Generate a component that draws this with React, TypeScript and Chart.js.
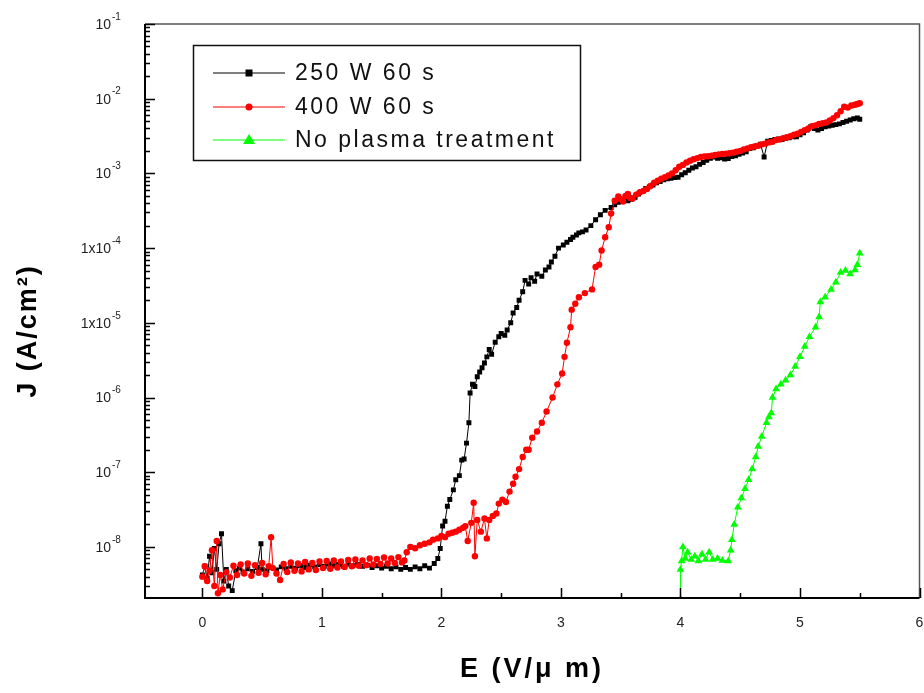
import React, { useEffect, useRef } from "react";
import { Chart, registerables } from "chart.js";

Chart.register(...registerables);

// ---- data (E in V/um, J in A/cm^2) ----
const blackE = [
  0.0, 0.02, 0.04, 0.06, 0.08, 0.1, 0.12, 0.14, 0.16, 0.18,
  0.2, 0.22, 0.25, 0.28, 0.31, 0.34, 0.38, 0.42, 0.46, 0.49,
  0.5, 0.54, 0.58, 0.62, 0.66, 0.7, 0.74, 0.78, 0.82, 0.86,
  0.9, 0.94, 0.98, 1.02, 1.06, 1.1, 1.14, 1.18, 1.22, 1.26,
  1.3, 1.34, 1.38, 1.42, 1.46, 1.5, 1.54, 1.58, 1.62, 1.66,
  1.7, 1.74, 1.78, 1.82, 1.86, 1.9, 1.94, 1.97, 1.99, 2.01,
  2.03, 2.05, 2.07, 2.1, 2.12, 2.15, 2.17, 2.19, 2.21, 2.23,
  2.24, 2.26, 2.28, 2.3, 2.32, 2.34, 2.36, 2.38, 2.4, 2.42,
  2.45, 2.48, 2.5, 2.53, 2.55, 2.58, 2.6, 2.63, 2.65, 2.68,
  2.7, 2.73, 2.75, 2.78, 2.8, 2.84, 2.87, 2.9, 2.92, 2.95,
  2.98, 3.02, 3.05, 3.08, 3.1, 3.13, 3.15, 3.18, 3.21, 3.25,
  3.29, 3.33, 3.37,
  3.42, 3.45, 3.48, 3.5, 3.53, 3.56, 3.59, 3.62, 3.65, 3.68,
  3.71, 3.74, 3.77, 3.8, 3.83, 3.86, 3.89, 3.92, 3.95, 3.98,
  4.01, 4.04, 4.07, 4.1, 4.13, 4.16, 4.19, 4.22, 4.25, 4.28,
  4.31, 4.34, 4.37, 4.4, 4.43, 4.46, 4.49, 4.52, 4.55, 4.58,
  4.61, 4.64, 4.67, 4.7, 4.73, 4.76, 4.79, 4.82, 4.85, 4.88,
  4.91, 4.94, 4.97, 5.0, 5.03, 5.06, 5.09, 5.12, 5.15, 5.18,
  5.21, 5.24, 5.27, 5.3, 5.33, 5.36, 5.39, 5.42, 5.45, 5.48, 5.5,
];
const blackJ = [
  4.2e-9, 5.5e-9, 3.8e-9, 7.5e-9, 4.5e-9, 9.5e-9, 5.0e-9, 1.1e-8, 1.5e-8, 3.5e-9,
  5.0e-9, 3.0e-9, 2.6e-9, 4.8e-9, 5.2e-9, 4.6e-9, 5.1e-9, 4.7e-9, 5.3e-9, 1.1e-8,
  5.0e-9, 4.8e-9, 5.3e-9, 4.9e-9, 5.4e-9, 5.1e-9, 5.5e-9, 5.2e-9, 5.6e-9, 5.3e-9,
  5.7e-9, 5.4e-9, 5.8e-9, 5.5e-9, 5.9e-9, 5.6e-9, 5.8e-9, 5.5e-9, 5.9e-9, 5.6e-9,
  5.8e-9, 5.5e-9, 5.7e-9, 5.3e-9, 5.6e-9, 5.2e-9, 5.5e-9, 5.1e-9, 5.4e-9, 5.0e-9,
  5.3e-9, 5.0e-9, 5.4e-9, 5.1e-9, 5.6e-9, 5.2e-9, 6.0e-9, 7.0e-9, 9.5e-9, 1.9e-8,
  2.2e-8, 3.5e-8, 4.3e-8, 5.8e-8, 7.9e-8, 9.0e-8, 1.45e-7, 1.5e-7, 2.45e-7, 4.6e-7,
  1.15e-6, 1.5e-6, 1.4e-6, 1.9e-6, 2.2e-6, 2.5e-6, 2.9e-6, 3.5e-6, 4.4e-6, 3.8e-6,
  5.5e-6, 6.5e-6, 7.2e-6, 6.8e-6, 8.0e-6, 1.0e-5, 1.35e-5, 1.6e-5, 2.0e-5, 2.6e-5,
  3.7e-5, 3.3e-5, 4.0e-5, 3.6e-5, 4.5e-5, 4.2e-5, 5.1e-5, 5.6e-5, 6.5e-5, 7.8e-5,
  1.0e-4, 1.1e-4, 1.2e-4, 1.3e-4, 1.4e-4, 1.5e-4, 1.6e-4, 1.65e-4, 1.75e-4, 2.0e-4,
  2.4e-4, 2.8e-4, 3.2e-4,
  3.5e-4, 3.8e-4, 4.1e-4, 4.2e-4, 4.35e-4, 4.3e-4, 4.5e-4, 4.8e-4, 5.3e-4, 5.7e-4,
  6.3e-4, 6.6e-4, 7.0e-4, 7.5e-4, 7.8e-4, 8.2e-4, 8.5e-4, 8.6e-4, 8.8e-4, 8.9e-4,
  9.6e-4, 1.02e-3, 1.1e-3, 1.18e-3, 1.23e-3, 1.32e-3, 1.4e-3, 1.5e-3, 1.6e-3, 1.66e-3,
  1.6e-3, 1.62e-3, 1.56e-3, 1.58e-3, 1.68e-3, 1.72e-3, 1.8e-3, 1.88e-3, 1.95e-3, 2.15e-3,
  2.2e-3, 2.35e-3, 2.45e-3, 1.66e-3, 2.7e-3, 2.75e-3, 2.85e-3, 2.9e-3, 2.85e-3, 2.95e-3,
  3.0e-3, 3.1e-3, 3.1e-3, 3.3e-3, 3.5e-3, 3.8e-3, 4.2e-3, 4.0e-3, 3.8e-3, 4.0e-3,
  4.2e-3, 4.3e-3, 4.4e-3, 4.5e-3, 4.6e-3, 4.8e-3, 5.0e-3, 5.2e-3, 5.4e-3, 5.5e-3, 5.3e-3,
];

const redE = [
  0.0, 0.02, 0.04, 0.06, 0.08, 0.1, 0.12, 0.13, 0.15, 0.17,
  0.2, 0.23, 0.26, 0.29, 0.32, 0.35, 0.38, 0.41, 0.44, 0.47,
  0.5, 0.53, 0.555, 0.575, 0.59, 0.62, 0.65, 0.68, 0.71, 0.74,
  0.77, 0.8, 0.83, 0.86, 0.89, 0.92, 0.95, 0.98, 1.01, 1.04,
  1.07, 1.1, 1.13, 1.16, 1.19, 1.22, 1.25, 1.28, 1.31, 1.34,
  1.37, 1.4, 1.43, 1.46, 1.49, 1.52, 1.55, 1.58, 1.61, 1.64,
  1.67, 1.69,
  1.71, 1.74, 1.78, 1.82, 1.86, 1.9, 1.93, 1.97, 2.0, 2.03,
  2.06, 2.09, 2.12, 2.15, 2.18, 2.2, 2.22, 2.25, 2.27, 2.28,
  2.3, 2.33, 2.36, 2.38, 2.4, 2.43, 2.46, 2.48, 2.51, 2.54,
  2.57, 2.6, 2.62, 2.65, 2.68, 2.71, 2.73, 2.76, 2.8, 2.84,
  2.88, 2.93, 2.97, 3.01, 3.03, 3.05, 3.08, 3.09, 3.12, 3.15,
  3.2, 3.26, 3.29, 3.32, 3.34, 3.37, 3.4, 3.42,
  3.45, 3.48, 3.5, 3.52, 3.54, 3.56, 3.58, 3.6, 3.63, 3.66,
  3.69, 3.72, 3.75, 3.78, 3.81, 3.84, 3.87, 3.9, 3.93, 3.96,
  3.99, 4.02, 4.05, 4.08, 4.11, 4.14, 4.17, 4.2, 4.23, 4.26,
  4.29, 4.32, 4.35, 4.38, 4.41, 4.44, 4.47, 4.5, 4.53, 4.56,
  4.59, 4.62, 4.65, 4.68, 4.71, 4.74, 4.77, 4.8, 4.83, 4.86,
  4.89, 4.92, 4.95, 4.98, 5.01, 5.04, 5.07, 5.1, 5.13, 5.16,
  5.19, 5.22, 5.25, 5.28, 5.31, 5.34, 5.37, 5.4, 5.43, 5.46, 5.48, 5.5,
];
const redJ = [
  4.0e-9, 5.5e-9, 3.5e-9, 4.8e-9, 9.0e-9, 3.0e-9, 1.2e-8, 2.4e-9, 4.2e-9, 2.7e-9,
  4.6e-9, 3.9e-9, 5.6e-9, 4.2e-9, 5.8e-9, 4.4e-9, 6.0e-9, 4.1e-9, 5.7e-9, 4.5e-9,
  6.1e-9, 4.3e-9, 5.5e-9, 1.35e-8, 5.2e-9, 4.4e-9, 3.6e-9, 5.9e-9, 4.6e-9, 6.2e-9,
  4.8e-9, 6.0e-9, 4.7e-9, 6.3e-9, 5.0e-9, 6.1e-9, 4.9e-9, 6.4e-9, 5.2e-9, 6.5e-9,
  5.1e-9, 6.6e-9, 5.3e-9, 6.4e-9, 5.4e-9, 6.7e-9, 5.5e-9, 6.8e-9, 5.6e-9, 6.6e-9,
  5.7e-9, 7.0e-9, 5.8e-9, 6.9e-9, 5.9e-9, 7.2e-9, 6.0e-9, 7.0e-9, 6.1e-9, 7.3e-9,
  6.2e-9, 6.6e-9,
  8.5e-9, 1.0e-8, 9.6e-9, 1.05e-8, 1.1e-8, 1.15e-8, 1.25e-8, 1.3e-8, 1.4e-8, 1.35e-8,
  1.5e-8, 1.55e-8, 1.6e-8, 1.7e-8, 1.8e-8, 1.9e-8, 1.2e-8, 2.1e-8, 3.9e-8, 7.5e-9,
  2.3e-8, 1.6e-8, 2.4e-8, 1.3e-8, 2.3e-8, 2.6e-8, 2.8e-8, 3.8e-8, 4.3e-8, 4.0e-8,
  5.5e-8, 7.0e-8, 8.7e-8, 1.1e-7, 1.6e-7, 2.0e-7, 2.0e-7, 2.9e-7, 3.5e-7, 4.6e-7,
  6.5e-7, 1.0e-6, 1.5e-6, 2.1e-6, 3.5e-6, 5.4e-6, 8.7e-6, 1.5e-5, 1.8e-5, 2.2e-5,
  2.5e-5, 2.8e-5, 5.6e-5, 6.0e-5, 9.3e-5, 1.4e-4, 1.9e-4, 2.9e-4,
  4.3e-4, 4.9e-4, 4.5e-4, 4.2e-4, 5.0e-4, 5.3e-4, 4.7e-4, 4.6e-4, 5.2e-4, 5.6e-4,
  5.8e-4, 6.2e-4, 6.8e-4, 7.5e-4, 8.0e-4, 8.5e-4, 8.9e-4, 9.4e-4, 1.0e-3, 1.1e-3,
  1.23e-3, 1.3e-3, 1.4e-3, 1.48e-3, 1.55e-3, 1.6e-3, 1.66e-3, 1.68e-3, 1.7e-3, 1.72e-3,
  1.76e-3, 1.8e-3, 1.82e-3, 1.84e-3, 1.86e-3, 1.9e-3, 1.95e-3, 2.0e-3, 2.1e-3, 2.15e-3,
  2.24e-3, 2.3e-3, 2.35e-3, 2.45e-3, 2.5e-3, 2.6e-3, 2.65e-3, 2.8e-3, 2.85e-3, 2.95e-3,
  3.05e-3, 3.15e-3, 3.3e-3, 3.4e-3, 3.6e-3, 3.8e-3, 4.0e-3, 4.3e-3, 4.4e-3, 4.6e-3,
  4.7e-3, 4.8e-3, 5.1e-3, 5.5e-3, 6.0e-3, 6.8e-3, 7.8e-3, 7.6e-3, 8.1e-3, 8.3e-3, 8.5e-3, 8.7e-3,
];

const greenE = [
  4.0, 4.0, 4.01, 4.02, 4.04, 4.06, 4.09, 4.12, 4.15, 4.18,
  4.21, 4.24, 4.27, 4.31, 4.35, 4.4, 4.42, 4.43, 4.45, 4.48,
  4.51, 4.54, 4.57, 4.6, 4.63, 4.65, 4.68, 4.72, 4.74, 4.76,
  4.77, 4.8, 4.84, 4.88, 4.92, 4.96, 5.0, 5.04, 5.08, 5.13,
  5.16, 5.17, 5.21, 5.26, 5.3, 5.34, 5.38, 5.42, 5.46, 5.48,
  5.5,
];
const greenJ = [
  2.0e-9, 5.0e-9, 6.5e-9, 1.0e-8, 7.0e-9, 8.5e-9, 6.8e-9, 7.5e-9, 6.5e-9, 8.0e-9,
  6.8e-9, 8.5e-9, 6.8e-9, 7.0e-9, 6.6e-9, 6.5e-9, 9.0e-9, 1.25e-8, 2.0e-8, 3.4e-8,
  4.5e-8, 6.0e-8, 7.9e-8, 1.1e-7, 1.6e-7, 2.2e-7, 3.0e-7, 4.6e-7, 5.5e-7, 6.2e-7,
  1.0e-6, 1.3e-6, 1.5e-6, 1.7e-6, 2.0e-6, 2.6e-6, 3.5e-6, 4.8e-6, 6.5e-6, 8.7e-6,
  1.2e-5, 1.9e-5, 2.2e-5, 2.8e-5, 3.5e-5, 4.7e-5, 5.0e-5, 4.5e-5, 5.1e-5, 6.0e-5,
  8.5e-5,
];

const seriesNames = ["250 W 60 s", "400 W 60 s", "No plasma treatment"];
const seriesColors = ["#000000", "#ff0000", "#00ff00"];

const xTickValues = [0, 1, 2, 3, 4, 5, 6];
const xTickLabels = ["0", "1", "2", "3", "4", "5", "6"];
const xMinorValues = [0.5, 1.5, 2.5, 3.5, 4.5, 5.5];
const yTickValues = [1e-1, 1e-2, 1e-3, 1e-4, 1e-5, 1e-6, 1e-7, 1e-8];
const yTickBase = ["10", "10", "10", "1x10", "1x10", "10", "10", "10"];
const yTickExp = ["-1", "-2", "-3", "-4", "-5", "-6", "-7", "-8"];

const X_MIN = -0.48;
const X_MAX = 6;
const Y_MIN = 2.07e-9;
const Y_MAX = 0.1;

const FONT = '"Liberation Sans", Arial, sans-serif';

function pts(xs: number[], ys: number[]) {
  return xs.map((x, i) => ({ x, y: ys[i] }));
}

const overlayPlugin = {
  id: "overlay",
  afterDraw(chart: any) {
    const { ctx, chartArea: a, scales } = chart;
    const x = scales.x;
    const y = scales.y;
    ctx.save();

    // frame
    ctx.strokeStyle = "#555";
    ctx.lineWidth = 1.5;
    ctx.beginPath();
    ctx.moveTo(a.left, a.top);
    ctx.lineTo(a.right, a.top);
    ctx.lineTo(a.right, a.bottom);
    ctx.stroke();
    ctx.strokeStyle = "#000";
    ctx.lineWidth = 2;
    ctx.beginPath();
    ctx.moveTo(a.left, a.top);
    ctx.lineTo(a.left, a.bottom);
    ctx.lineTo(a.right, a.bottom);
    ctx.stroke();

    // x ticks (inside)
    ctx.lineWidth = 1.5;
    ctx.beginPath();
    xTickValues.forEach((v) => {
      const px = Math.round(x.getPixelForValue(v)) + 0.5;
      ctx.moveTo(px, a.bottom);
      ctx.lineTo(px, a.bottom - 10);
    });
    xMinorValues.forEach((v) => {
      const px = Math.round(x.getPixelForValue(v)) + 0.5;
      ctx.moveTo(px, a.bottom);
      ctx.lineTo(px, a.bottom - 5);
    });
    // y ticks (inside)
    yTickValues.forEach((v) => {
      const py = Math.round(y.getPixelForValue(v)) + 0.5;
      ctx.moveTo(a.left, py);
      ctx.lineTo(a.left + 10, py);
      for (let m = 2; m <= 9; m++) {
        const mv = v * m;
        if (mv > Y_MAX || mv < Y_MIN) continue;
        const pm = Math.round(y.getPixelForValue(mv)) + 0.5;
        ctx.moveTo(a.left, pm);
        ctx.lineTo(a.left + 5, pm);
      }
    });
    [2, 3, 4, 5, 6, 7, 8, 9].forEach((m) => {
      const mv = 1e-9 * m;
      if (mv < Y_MIN) return;
      const pm = Math.round(y.getPixelForValue(mv)) + 0.5;
      ctx.moveTo(a.left, pm);
      ctx.lineTo(a.left + 5, pm);
    });
    ctx.stroke();

    // x tick labels
    ctx.fillStyle = "#222";
    ctx.font = `14px ${FONT}`;
    ctx.textAlign = "center";
    ctx.textBaseline = "middle";
    xTickValues.forEach((v, i) => {
      ctx.fillText(xTickLabels[i], x.getPixelForValue(v), 623);
    });

    // y tick labels with superscripts
    yTickValues.forEach((v, i) => {
      const py = y.getPixelForValue(v);
      ctx.font = `14px ${FONT}`;
      ctx.textAlign = "right";
      ctx.textBaseline = "middle";
      ctx.fillText(yTickBase[i], 111, py + 1);
      ctx.font = `10px ${FONT}`;
      ctx.textAlign = "left";
      ctx.fillText(yTickExp[i], 112, py - 7);
    });

    // axis titles
    ctx.fillStyle = "#000";
    ctx.font = `bold 27px ${FONT}`;
    (ctx as any).letterSpacing = "3px";
    ctx.textAlign = "center";
    ctx.textBaseline = "middle";
    ctx.fillText("E (V/\u03bc m)", 532, 670);
    (ctx as any).letterSpacing = "2px";
    ctx.save();
    ctx.translate(29, 331);
    ctx.rotate(-Math.PI / 2);
    ctx.fillText("J (A/cm\u00b2)", 0, 0);
    ctx.restore();

    // legend
    (ctx as any).letterSpacing = "0px";
    ctx.strokeStyle = "#111";
    ctx.lineWidth = 1.5;
    ctx.strokeRect(193.5, 45.5, 387, 115);
    const rows = [73, 107, 140];
    rows.forEach((ry, i) => {
      const c = seriesColors[i];
      ctx.strokeStyle = c;
      ctx.fillStyle = c;
      ctx.lineWidth = 1.2;
      ctx.beginPath();
      ctx.moveTo(213, ry);
      ctx.lineTo(285, ry);
      ctx.stroke();
      const cx = 249;
      ctx.beginPath();
      if (i === 0) {
        ctx.rect(cx - 3.5, ry - 3.5, 7, 7);
      } else if (i === 1) {
        ctx.arc(cx, ry, 3.5, 0, Math.PI * 2);
      } else {
        ctx.moveTo(cx, ry - 6);
        ctx.lineTo(cx + 6, ry + 4);
        ctx.lineTo(cx - 6, ry + 4);
        ctx.closePath();
      }
      ctx.fill();
    });
    ctx.fillStyle = "#111";
    ctx.font = `23px ${FONT}`;
    (ctx as any).letterSpacing = "2.5px";
    ctx.textAlign = "left";
    ctx.textBaseline = "middle";
    rows.forEach((ry, i) => {
      ctx.fillText(seriesNames[i], 295, ry + 1);
    });
    (ctx as any).letterSpacing = "0px";
    ctx.restore();
  },
};

export default function App() {
  const ref = useRef<HTMLCanvasElement | null>(null);

  useEffect(() => {
    document.body.style.margin = "0";
    const canvas = ref.current;
    if (!canvas) return;
    const chart = new Chart(canvas, {
      type: "scatter",
      data: {
        datasets: [
          {
            label: seriesNames[0],
            data: pts(blackE, blackJ),
            showLine: true,
            borderColor: seriesColors[0],
            backgroundColor: seriesColors[0],
            borderWidth: 1,
            pointStyle: "rect",
            pointRadius: 3.5,
            pointBorderWidth: 0,
            order: 2,
          },
          {
            label: seriesNames[1],
            data: pts(redE, redJ),
            showLine: true,
            borderColor: seriesColors[1],
            backgroundColor: seriesColors[1],
            borderWidth: 1,
            pointStyle: "circle",
            pointRadius: 3.2,
            pointBorderWidth: 0,
            order: 1,
          },
          {
            label: seriesNames[2],
            data: pts(greenE, greenJ),
            showLine: true,
            borderColor: seriesColors[2],
            backgroundColor: seriesColors[2],
            borderWidth: 1,
            pointStyle: "triangle",
            pointRadius: 4.5,
            pointBorderWidth: 0,
            order: 0,
          },
        ],
      },
      options: {
        animation: false,
        responsive: false,
        devicePixelRatio: 1,
        layout: { padding: { top: 24, right: 3, left: 0, bottom: 0 } },
        plugins: {
          legend: { display: false },
          tooltip: { enabled: false },
        },
        scales: {
          x: {
            type: "linear",
            min: X_MIN,
            max: X_MAX,
            grid: { display: false, drawTicks: false },
            border: { display: false },
            ticks: { display: false },
            afterFit: (s: any) => {
              s.height = 95;
            },
          },
          y: {
            type: "logarithmic",
            min: Y_MIN,
            max: Y_MAX,
            grid: { display: false, drawTicks: false },
            border: { display: false },
            ticks: { display: false },
            afterFit: (s: any) => {
              s.width = 145;
            },
          },
        },
      },
      plugins: [overlayPlugin],
    });
    return () => chart.destroy();
  }, []);

  return (
    <div style={{ position: "relative", width: 924, height: 693, background: "#fff" }}>
      <canvas ref={ref} width={924} height={693} style={{ display: "block" }} />
    </div>
  );
}
